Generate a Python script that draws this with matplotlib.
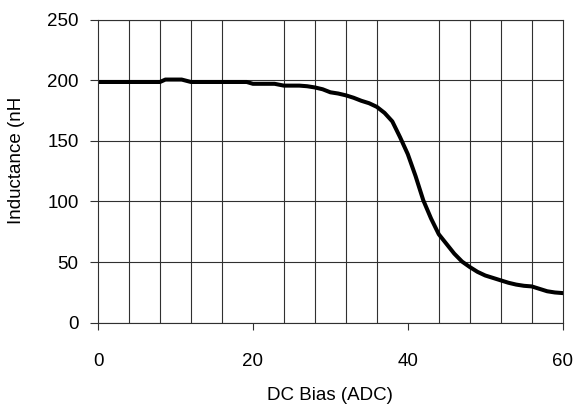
import numpy as np
import matplotlib
matplotlib.use("Agg")
import matplotlib.pyplot as plt
from matplotlib.ticker import MultipleLocator

# data
dc_bias = [0, 4, 8, 8.7, 10.8, 12, 16, 19.2, 20, 22.8, 24, 26, 27, 28, 29,
           30, 31, 32, 33, 34, 35, 36, 37, 38, 39, 40, 41, 42, 43, 44, 45,
           46, 47, 48, 49, 50, 51, 52, 53, 54, 55, 56, 57, 58, 59, 60]
inductance = [198.5, 198.5, 198.5, 200.5, 200.5, 198.5, 198.5, 198.5, 197, 197, 195.5, 195.5, 195, 194, 192.5,
              190, 189, 187.5, 185.5, 183, 181, 178, 173, 166, 153, 139, 121, 101, 86, 73, 65,
              57, 50.5, 46, 42, 39, 37, 35, 33, 31.5, 30.5, 30, 28, 26, 25, 24.5]

plt.rcParams['font.family'] = ['Liberation Sans', 'DejaVu Sans']
fs = 13.5

fig = plt.figure(figsize=(5.78, 4.08), dpi=100)
ax = fig.add_axes([0.1696, 0.2088, 0.8039, 0.7434])

ax.plot(dc_bias, inductance, color='black', linewidth=2.9, solid_joinstyle='round')

ax.set_xlim(0, 60)
ax.set_ylim(0, 250)
ax.xaxis.set_major_locator(MultipleLocator(20))
ax.xaxis.set_minor_locator(MultipleLocator(4))
ax.yaxis.set_major_locator(MultipleLocator(50))
ax.grid(True, which='minor', axis='x', color='#303030', linewidth=0.8)
ax.grid(True, which='major', axis='y', color='#303030', linewidth=0.8)
ax.set_axisbelow(True)

ax.tick_params(axis='x', which='major', length=5, width=0.8, color='#303030',
               pad=17, labelsize=fs)
ax.tick_params(axis='x', which='minor', length=0)
ax.tick_params(axis='y', length=6, width=0.8, color='#303030', pad=8, labelsize=fs)
for s in ax.spines.values():
    s.set_color('#303030')
    s.set_linewidth(0.8)

ax.set_xlabel("DC Bias (ADC)", fontsize=fs)
ax.xaxis.set_label_coords(0.5, -0.21)
ax.set_ylabel("Inductance (nH", fontsize=fs)
ax.yaxis.label.set_va('center')
ax.yaxis.set_label_coords(-0.176, 0.537)

fig.savefig("out.png", dpi=100)
